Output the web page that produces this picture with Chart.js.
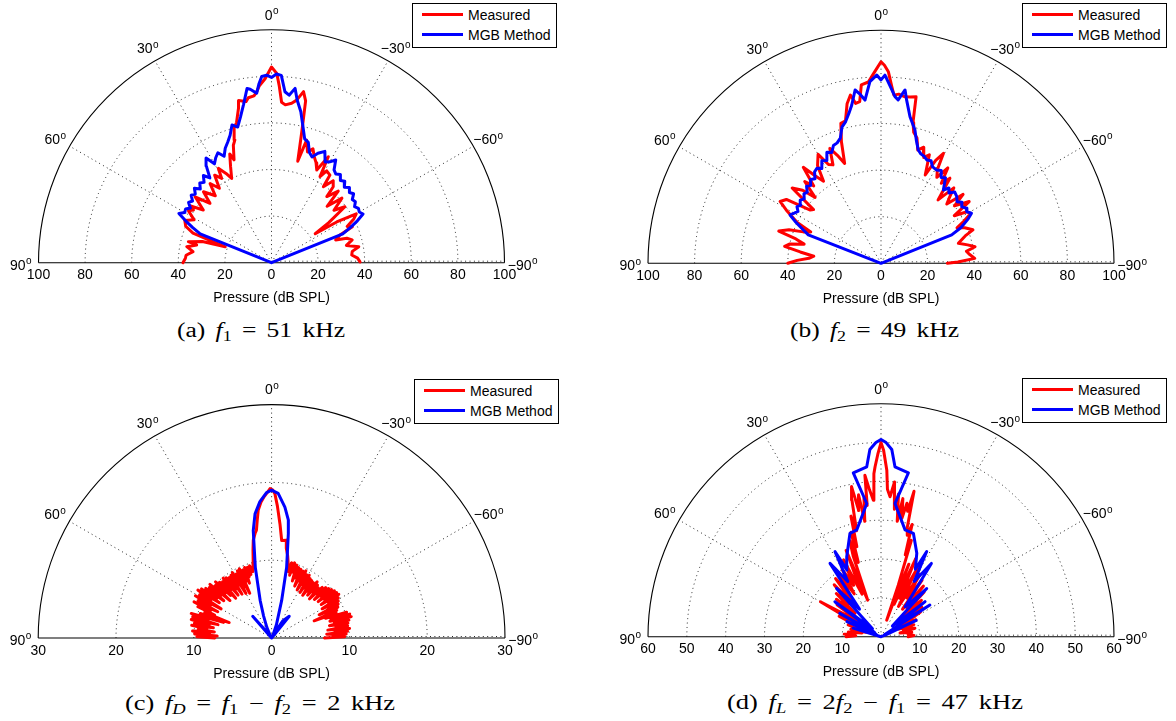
<!DOCTYPE html>
<html><head><meta charset="utf-8">
<script src="https://cdn.jsdelivr.net/npm/chart.js@4.4.1/dist/chart.umd.min.js"></script>
<style>
body{margin:0;background:#fff;}
#root{position:relative;width:1176px;height:721px;overflow:hidden;background:#fff;font-family:Arial,"Liberation Sans",Helvetica,sans-serif;}
#root canvas{position:absolute;}
.legend{position:absolute;box-sizing:border-box;width:145px;height:45px;border:1px solid #000;background:#fff;}
.sw{position:absolute;left:8.5px;width:41px;height:3px;}
.lt{position:absolute;left:55px;font-size:14px;line-height:16px;white-space:nowrap;color:#000;}
.cap{position:absolute;font-family:"Liberation Serif","Times New Roman",serif;font-size:20px;line-height:24px;white-space:pre;color:#000;transform-origin:0 50%;word-spacing:3px;}
.cap sub{font-size:0.7em;vertical-align:-0.3em;line-height:0;}
</style></head><body><div id="root"></div>
<script>
// ---------- data (angle in degrees, positive = left; pressure in dB SPL) ----------
const seriesNames = ['Measured', 'MGB Method'];
const ticksAB = [-100,-80,-60,-40,-20,0,20,40,60,80,100];
const ticksC = [-30,-20,-10,0,10,20,30];
const ticksD = [-60,-50,-40,-30,-20,-10,0,10,20,30,40,50,60];
const ringsAB = [20,40,60,80];
const ringsC = [10,20];
const ringsD = [10,20,30,40,50];
const spokeAngles = [60,30,0,-30,-60];
const angleLabels = [0,30,60,90,-30,-60,-90];

// (a) f1 = 51 kHz
const angA_meas = [90,87,85,82,79.3,76.7,75.8,73,71,69.4,67,64,61,58,56,55,52.3,49.2,46,43.8,40,37.8,35,33,30.6,29.4,27,25.3,23,21,20,18,16.6,15.5,14,12,11.5,9,8,6,5,4,2,0,-1.6,-2.5,-3.6,-5,-7.2,-8.8,-10.6,-11.9,-13,-14.5,-16,-18,-20,-22,-24,-26,-28.2,-29.4,-31,-33.7,-34.3,-37,-39.1,-39.9,-43,-44.6,-47.5,-50,-52.7,-55,-56.5,-58,-60,-62,-64.4,-66,-68,-70.5,-72,-74.2,-77,-79.6,-82,-84.5,-87,-89.5];
const dbA_meas = [38,37,36.8,34,37,33,36.8,31,21,36,40,41.4,38,42,40.4,42.4,37,43.3,36.7,42.2,37.5,43,39,44.8,42,46.5,43,40,45,50,47,53,55,60,62,68,71,70,71.5,72,73.5,76,79,84,81.3,76,69,68,69,70.6,74.7,71,58,45,54.7,50,52,49,47,44.3,51.6,42.4,46,45.2,39.5,44,42,37,42,34,41,35,39.6,30,22.5,33,42,40,36,38,31.7,29.2,34,36,33,38.1,35,34.6,37,38];
const angA_mgb = [90,68,66,64,62,60,58,56,54,52,50,48,46,44,42,40,38,36,34,32,30,28,26,24,22,20,18,16,14,12,10,8,7,5,4,3,1.5,0,-1.5,-3,-4.5,-6,-7.7,-9,-11,-13,-15,-17,-19,-21,-23,-25.6,-28,-30,-32,-34,-36,-38,-40,-42,-44,-46,-48,-50,-52,-54,-56,-58,-60,-62,-64,-66,-68,-90];
const dbA_mgb = [0,33,37,41,45,43,43.5,42,44,43,45,44,46,44,46,45,47.5,45,50,53,49,51,52.5,50,53,55,57.5,61.5,60,64,69,75.5,75,73,77,80,80.5,79.5,81,80.5,73.6,72.3,75.5,70.6,66,60,55,54,50,48.6,51,53,49,50,52,48,47,48,46,47,45,46.5,45,46,44,44.5,43,44,43.5,44.5,41,37,33,0];

// (b) f2 = 49 kHz
const angB_meas = [90,88,86,84,82,80,78,76,74,72.5,70,68,66,64,61,58.5,56,53,51.5,49.7,47,45,43,41,39,37,35,33,30,28,26,24,22,20,18,16,14,12,10.3,9,7.5,6.3,4,2,0,-1,-2.2,-3.5,-4.4,-6,-8.2,-10,-11.9,-12.8,-14,-16,-18,-20,-22,-24,-26.6,-28,-29.6,-31,-33,-35,-37,-39,-42,-44,-46,-48,-50,-52,-55,-57,-59,-61,-63,-65,-67,-70,-72,-75.5,-78,-80,-82,-84,-87,-89,-90];
const dbB_meas = [40,36,31,29,35,42,40,34,38,46,42,36,33,40,46,50.8,49,38,37,50,46,40,48,44,53,47,43,50,54,48,47,54,50,45.6,55,62.5,63,70,73.4,69.5,70,77,78,82,86.5,85,82.3,76,72.4,73,72.2,72.5,73,62,58,56,51.1,53,49,51,42.4,50,54.3,47,44,50,43,47,36.6,45,41,38,46,40,46.2,37.5,43,44,40,36,39,42,38,34.3,38,41,37,38,40.3,33,28.5];
const angB_mgb = [90,68.6,66,64,62,60,58,56,54,52,50,48,46,44,42,40,38,36,34,32,30,28,26,24,22,20,18,16,14,12,10.5,8.5,7,5.6,3.5,1.3,0,-1.2,-3,-4.8,-6,-7.9,-8.9,-11.2,-14.3,-16,-18.2,-20,-22,-24,-26,-28,-30.8,-33,-35,-37,-40.4,-42,-44,-46,-48.7,-51,-53,-55,-57,-59,-61,-63,-66,-68.1,-90];
const dbB_mgb = [0,33.5,37.5,41,44.2,43,42,43.5,42.5,44,43,44.5,44,46,45,47,46,48.5,49.2,48,50.8,50,53,52,54.5,55,56.5,60.8,62.7,66,69,75.2,73,70.4,78.1,80.8,78.7,80.8,76,71.8,70.5,75.1,71,64.1,59,55,51.2,50,49.5,48.5,49,47,46.6,47.5,45,46,41.3,43.5,42,44,43.3,42,43.5,42.3,43.5,43,44.4,42,37.5,32.7,0];

// (c) fD = f1 - f2 = 2 kHz
const angC_meas = [90,89,88,87,86,85,84,83,82,81,80,79,78,77,76,75,74,73,72,71,70,69,68,67,66,65,64,63,62,61,60,59,58,57,56,55,54,53,52,51,50,49,48,47,46,45,44,43,42,41,40,39,38,37,36,35,34,33,32,31,30,29,28,27,26,25,24,23,22,21,20,19,18,17,16,15,
  13.3,12,10.6,9,8,7,6,4.5,3,1.5,0.6,-0.5,-1.3,-2.5,-4.2,-5.9,-8.7,-9.3,-11,
  -12.6,-14,-15,-16,-17,-18,-19,-20,-21,-22,-23,-24,-25,-26,-27,-28,-29,-30,-31,-32,-33,-34,-35,-36,-37,-38,-39,-40,-41,-42,-43,-44,-45,-46,-47,-48,-49,-50,-51,-52,-53,-54,-55,-56,-57,-58,-59,-60,-61,-62,-63,-64,-65,-66,-67,-68,-69,-70,-71,-72,-73,-74,-75,-76,-77,-78,-79,-80,-81,-82,-83,-84,-85,-86,-87,-88,-89,-90];
const dbC_meas = [7.3,9.6,7,9.9,8,10.2,7.4,9.5,8.4,10.4,7.6,10.1,8.2,10.6,7.1,10.5,8.5,10.8,6.5,9.7,5.8,9.2,7.9,10.3,8.6,11,7.7,10.6,8.9,11.2,7.5,10.8,9.2,11.3,8.1,11,8.7,10.6,7.8,10.3,8.5,10.5,7.2,9.9,8.3,10.2,7.6,9.8,6.9,9.6,8.1,9.9,7,9.7,7.8,9.5,6.8,9.6,8,9.8,6.6,9.4,7.5,9.7,6.4,9.8,8,9.5,7.6,9.7,8.4,9.6,8.6,9.7,8.9,9.3,
  10.3,11.5,12.8,13.6,14,15.2,16.5,17.5,18.2,18.8,19.2,19,18.56,17,14.7,12.6,12.7,11.7,10.8,
  9.8,8.8,10,8.4,10.1,8.9,9.9,7.8,9.7,8.3,9.6,7.3,9.5,8.1,9.7,7,9.3,7.9,9.4,6.9,9.1,7.7,9,6.8,8.9,7.6,9.3,7.2,9,7.9,8.8,7,9.2,8.1,9.5,7.4,9.7,8.3,9.9,7.6,10.1,8.4,10.2,7.7,10.3,8.6,10,7.5,9.8,8.2,9.6,6.8,9.4,7.6,9.1,5.9,8.9,7.4,10.2,8,10.5,7.8,10.6,8.3,10.2,7.6,10,8.4,9.9,7.3,10.1,8.2,9.8,7.1,9.6,7.9,9.4,6.8];
const angC_mgb = [90,41,30,24,20,17,13,9.7,7.6,4.9,2,0,-2.6,-5.8,-8.1,-9.1,-12,-15,-20,-28,-33,-39,-90];
const dbC_mgb = [0,3.7,0.3,1.5,3,5,9.3,14,16.1,17.6,18.7,19,18.6,16.9,15.3,13.6,9.3,5,1.8,0.3,2.6,3.6,0];

// (d) fL = 2f2 - f1 = 47 kHz
const angD_meas = [90,88,86,84,82,79,76,73,70,67,64,62,60,58,56,54,52,50,48,46,44,42,40,38,36,34,32,30,28,26,24,22,20,19,18,17,16,15,14,13,12,11.1,10,9,8,7,6,5.7,4.5,3.2,2.5,2,1,0,-0.8,-2,-2.5,-3.7,-5,-6,-7,-8,-9,-10,-11,-12,-12.8,-13.5,-14.5,-15.5,-16.5,-17.5,-18.5,-19,-20,-21,-22,-24,-26,-28,-30,-32,-34,-36,-38,-40,-42,-44,-46,-48,-50,-52,-54,-56,-58,-61,-64,-67,-70,-73,-76,-79,-82,-85,-88,-90];
const dbD_meas = [9,6.5,9.5,7,8.5,5,8,4,9,5,12,6,18,10,4,14,8,15,9,16,12,18,11,19,14,21,13,20,15,22,12,24,10,22,26,20,28,24,32,28,36,39.4,33,37,30,36,34,41.8,38,35.2,42,43.8,47,50,48,42.9,38,36.1,40,33,37,30,36,31,35,33,38.4,29,27,30,22,26,14,4.5,12,20,9,22,11,20,9,19,12,18,9,17,10,16,8,14,12,7,13,5,12,6,10,5,9,6,9,5,8,7,8.5,7];
const angD_mgb = [90,73,68,66,62,60.5,56,52.8,47,42.6,38,34.8,31,28.4,27,23.2,16.7,12.8,6.1,9.6,4.8,3.4,1.5,0,-1.5,-3.3,-4.7,-9.5,-6,-12.7,-17.4,-23.2,-27,-28.2,-31,-34.5,-39,-43.5,-47,-51.5,-54,-57,-61,-65,-70,-90];
const dbD_mgb = [0,7.5,1,9.6,1.5,12.2,2,14.9,3,16.9,9,23,16.6,24.9,19.3,22.4,27.8,28.2,34.5,42.8,43.9,48.3,50,50.8,50,48.3,43.9,42.8,34.5,28.2,27.9,23.4,19.5,24.9,16.6,22.9,9.9,17.1,4,14.5,5,15,1,10,1,0];

// ---------- layout ----------
const FONT = 'Arial, "Liberation Sans", Helvetica, sans-serif';
Chart.defaults.font.family = FONT;
Chart.defaults.color = '#000';

const PANELS = [
  {cx:271.5, cy:262.7, R:233, max:100, rings:ringsAB, ticks:ticksAB, meas:[angA_meas,dbA_meas], mgb:[angA_mgb,dbA_mgb],
   legend:[412,3], cap:[261,330,168], capHTML:'(a) <i>f</i><sub>1</sub> = 51 kHz'},
  {cx:881, cy:263.3, R:233, max:100, rings:ringsAB, ticks:ticksAB, meas:[angB_meas,dbB_meas], mgb:[angB_mgb,dbB_mgb],
   legend:[1022,3], cap:[874,330,169], capHTML:'(b) <i>f</i><sub>2</sub> = 49 kHz'},
  {cx:271.6, cy:638, R:233.4, max:30, rings:ringsC, ticks:ticksC, meas:[angC_meas,dbC_meas], mgb:[angC_mgb,dbC_mgb],
   legend:[414,379], cap:[260,703,270], capHTML:'(c) <i>f</i><sub><i>D</i></sub> = <i>f</i><sub>1</sub> − <i>f</i><sub>2</sub> = 2 kHz'},
  {cx:881, cy:636.7, R:233, max:60, rings:ringsD, ticks:ticksD, meas:[angD_meas,dbD_meas], mgb:[angD_mgb,dbD_mgb],
   legend:[1022,378], cap:[875,702,296], capHTML:'(d) <i>f</i><sub><i>L</i></sub> = 2<i>f</i><sub>2</sub> − <i>f</i><sub>1</sub> = 47 kHz'}
];

const root = document.getElementById('root');
const deg = Math.PI/180;
function toXY(ang, db){ return ang.map((a,i)=>({x:-db[i]*Math.sin(a*deg), y:db[i]*Math.cos(a*deg)})); }

function polarPlugin(p){
  return {
    id:'polarGrid',
    beforeDatasetsDraw(chart){
      const ctx = chart.ctx, x = chart.scales.x, y = chart.scales.y;
      const cx = x.getPixelForValue(0), cy = y.getPixelForValue(0);
      const rp = v => x.getPixelForValue(v) - cx;
      const R = rp(p.max);
      ctx.save();
      ctx.lineWidth = 1; ctx.strokeStyle = 'rgba(0,0,0,0.85)'; ctx.setLineDash([1,3.4]);
      p.rings.forEach(r=>{ ctx.beginPath(); ctx.arc(cx,cy,rp(r),Math.PI,2*Math.PI); ctx.stroke(); });
      spokeAngles.forEach(a=>{ ctx.beginPath(); ctx.moveTo(cx,cy); ctx.lineTo(cx-R*Math.sin(a*deg), cy-R*Math.cos(a*deg)); ctx.stroke(); });
      ctx.beginPath(); ctx.moveTo(cx,cy-1.5); ctx.lineTo(cx+R,cy-1.5); ctx.stroke();
      ctx.setLineDash([]); ctx.strokeStyle = '#000'; ctx.lineWidth = 1.1;
      ctx.beginPath(); ctx.arc(cx,cy,R,Math.PI,2*Math.PI); ctx.stroke();
      ctx.beginPath(); ctx.moveTo(cx-R,cy); ctx.lineTo(cx+R,cy); ctx.stroke();
      ctx.restore();
    },
    afterDraw(chart){
      const ctx = chart.ctx, x = chart.scales.x, y = chart.scales.y;
      const cx = x.getPixelForValue(0), cy = y.getPixelForValue(0);
      const R = x.getPixelForValue(p.max) - cx;
      ctx.save();
      ctx.fillStyle = '#000'; ctx.textBaseline = 'middle'; ctx.textAlign = 'left';
      angleLabels.forEach(a=>{
        const s = Math.sin(a*deg), c = Math.cos(a*deg);
        const rl = R + 14 + 4*s*s;
        const px = cx - rl*s, py = cy - rl*c + 3*Math.abs(s);
        const main = (a<0 ? '\u2212' : '') + Math.abs(a);
        ctx.font = '14px ' + FONT; const w1 = ctx.measureText(main).width;
        ctx.font = '10px ' + FONT; const w2 = ctx.measureText('o').width;
        const x0 = px - (w1+w2)/2;
        ctx.font = '14px ' + FONT; ctx.fillText(main, x0, py);
        ctx.font = '10px ' + FONT; ctx.fillText('o', x0 + w1 + 0.5, py - 4.4);
      });
      ctx.restore();
    }
  };
}

PANELS.forEach(p=>{
  const left = Math.floor(p.cx - p.R - 45), top = Math.floor(p.cy - p.R - 32);
  const padL = p.cx - p.R - left, padT = p.cy - p.R - top;
  const W = Math.ceil(padL + 2*p.R + 45), H = Math.ceil(padT + p.R + 52);
  const axisH = H - padT - p.R;
  const cv = document.createElement('canvas');
  cv.width = W; cv.height = H;
  cv.style.left = left + 'px'; cv.style.top = top + 'px';
  cv.style.width = W + 'px'; cv.style.height = H + 'px';
  root.appendChild(cv);
  new Chart(cv.getContext('2d'), {
    type:'scatter',
    data:{datasets:[
      {label:seriesNames[1], data:toXY(p.mgb[0],p.mgb[1]), showLine:true, borderColor:'#0000ff', backgroundColor:'#0000ff',
       borderWidth:3, pointRadius:0, tension:0, clip:false, order:1, borderJoinStyle:'round', borderCapStyle:'round'},
      {label:seriesNames[0], data:toXY(p.meas[0],p.meas[1]), showLine:true, borderColor:'#ff0000', backgroundColor:'#ff0000',
       borderWidth:3, pointRadius:0, tension:0, clip:false, order:2, borderJoinStyle:'round', borderCapStyle:'round'}
    ]},
    options:{
      responsive:false, animation:false, devicePixelRatio:1, events:[],
      layout:{padding:{left:padL, right:W-padL-2*p.R, top:padT, bottom:0}},
      plugins:{legend:{display:false}, tooltip:{enabled:false}},
      scales:{
        x:{type:'linear', min:-p.max, max:p.max, position:'bottom',
           afterFit:(s)=>{ s.height = axisH; },
           afterBuildTicks:(s)=>{ s.ticks = p.ticks.map(v=>({value:v})); },
           grid:{display:false, drawTicks:false}, border:{display:false},
           ticks:{autoSkip:false, maxRotation:0, padding:4.5, color:'#000', font:{size:14}, callback:(v)=>String(Math.abs(v))},
           title:{display:true, text:'Pressure (dB SPL)', color:'#000', font:{size:14}, padding:{top:0, bottom:axisH-35.8-8.4}}},
        y:{display:false, min:0, max:p.max}
      }
    },
    plugins:[polarPlugin(p)]
  });

  // legend
  const lg = document.createElement('div');
  lg.className = 'legend';
  lg.style.left = p.legend[0] + 'px'; lg.style.top = p.legend[1] + 'px';
  lg.innerHTML = '<div class="sw" style="top:8.8px;background:#ff0000"></div><div class="lt" style="top:2.8px">'+seriesNames[0]+'</div>'+
                 '<div class="sw" style="top:28.8px;background:#0000ff"></div><div class="lt" style="top:22.8px">'+seriesNames[1]+'</div>';
  root.appendChild(lg);

  // caption (stretched horizontally to the width of the original's TeX caption)
  const cp = document.createElement('div');
  cp.className = 'cap';
  cp.innerHTML = p.capHTML;
  root.appendChild(cp);
  const w0 = cp.getBoundingClientRect().width;
  const sx = Math.max(0.9, Math.min(1.35, p.cap[2] / w0));
  cp.style.transform = 'scaleX(' + sx + ')';
  cp.style.left = (p.cap[0] - w0*sx/2) + 'px';
  cp.style.top = (p.cap[1] - 12.5) + 'px';
});
</script></body></html>
